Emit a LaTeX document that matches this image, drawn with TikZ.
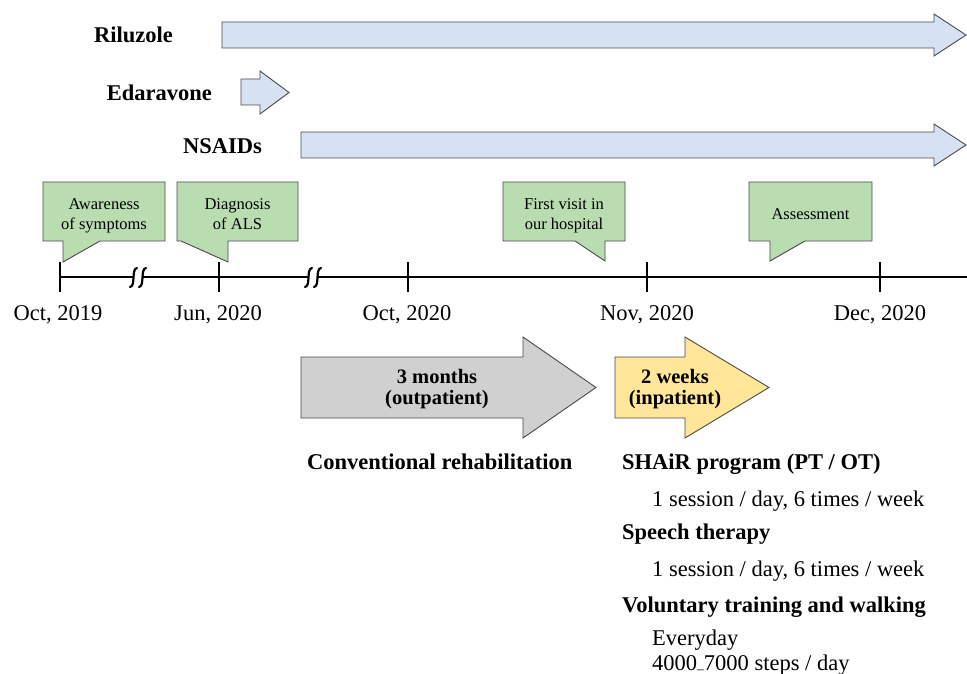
\documentclass[tikz,border=0pt]{standalone}
\usepackage{fontspec}
\setmainfont{Liberation Serif}
\definecolor{drugblue}{HTML}{D6E2F2}
\definecolor{callgreen}{HTML}{B9DDB1}
\definecolor{arrgrey}{HTML}{D0D0D0}
\definecolor{arryellow}{HTML}{FFE699}
\definecolor{edgegrey}{HTML}{4A4A4A}
\tikzset{
  drugarrow/.style={fill=drugblue, draw=edgegrey, line width=0.9pt, line join=miter},
  callout/.style={fill=callgreen, draw=edgegrey, line width=0.9pt, line join=miter},
  phasearrow/.style={draw=edgegrey, line width=0.9pt, line join=miter},
  bigtext/.style={font=\fontsize{22.5}{27}\selectfont, inner sep=0pt},
  bigbold/.style={font=\fontsize{22.5}{27}\selectfont\bfseries, inner sep=0pt},
  phasetext/.style={font=\fontsize{20.5}{24}\selectfont\bfseries, inner sep=0pt, anchor=base},
  calltext/.style={font=\fontsize{16.5}{20}\selectfont, inner sep=0pt, anchor=base},
  axis/.style={line width=2.2pt, black},
  tickmark/.style={line width=2.2pt, black},
  breakmark/.style={line width=2.2pt, black, line cap=round}
}
\begin{document}
\begin{tikzpicture}[x=1pt, y=-1pt]
\useasboundingbox (0,0) rectangle (967,674);

% drug arrows
\draw[drugarrow] (222,22) -- (934,22) -- (934,14) -- (966,35) -- (934,56) -- (934,48) -- (222,48) -- cycle;
\draw[drugarrow] (241,79) -- (260,79) -- (260,71) -- (289,92.5) -- (260,114) -- (260,105) -- (241,105) -- cycle;
\draw[drugarrow] (301,132) -- (934,132) -- (934,124) -- (966,145) -- (934,166) -- (934,158) -- (301,158) -- cycle;
\node[bigbold, anchor=base east] (rilu) at (173,43) {Riluzole};
\node[bigbold, anchor=base east] (edar) at (212,101) {Edaravone};
\node[bigbold, anchor=base east] (nsaid) at (262,154) {NSAIDs};

% callouts
\draw[callout] (43,182) -- (165,182) -- (165,241) -- (100,241) -- (63,262) -- (63,241) -- (43,241) -- cycle;
\draw[callout] (177,182) -- (298,182) -- (298,241) -- (228,241) -- (228,262) -- (181,241) -- (177,241) -- cycle;
\draw[callout] (503,182) -- (625,182) -- (625,241) -- (605,241) -- (605,261) -- (575,241) -- (503,241) -- cycle;
\draw[callout] (749,182) -- (872,182) -- (872,241) -- (805,241) -- (770,261) -- (770,241) -- (749,241) -- cycle;
\node[calltext] (aw1) at (104,209.5) {Awareness};
\node[calltext] (aw2) at (104,229.5) {of symptoms};
\node[calltext] (dg1) at (237.5,209.5) {Diagnosis};
\node[calltext] (dg2) at (237.5,229.5) {of ALS};
\node[calltext] (fv1) at (564,209.5) {First visit in};
\node[calltext] (fv2) at (564,229.5) {our hospital};
\node[calltext] (as1) at (810.5,219) {Assessment};

% timeline
\coordinate (tl0) at (60,277);
\coordinate (tl1) at (967,277);
\draw[axis] (tl0) -- (tl1);
\foreach \tx in {60,219,408,647,880}{
  \draw[tickmark] (\tx,262) -- (\tx,292);
}
% break marks
\foreach \bx in {138,313}{
  \fill[white] (\bx-7,285) -- (\bx-2,270) -- (\bx+7,270) -- (\bx+2,285) -- cycle;
  \draw[breakmark] (\bx-8,287) .. controls (\bx-2,286) and (\bx-7,269) .. (\bx-1,268);
  \draw[breakmark] (\bx+1,287) .. controls (\bx+7,286) and (\bx+2,269) .. (\bx+8,268);
}
\node[bigtext, anchor=base] (d1) at (58,320) {Oct, 2019};
\node[bigtext, anchor=base] (d2) at (218,320) {Jun, 2020};
\node[bigtext, anchor=base] (d3) at (407,320) {Oct, 2020};
\node[bigtext, anchor=base] (d4) at (647,320) {Nov, 2020};
\node[bigtext, anchor=base] (d5) at (880,320) {Dec, 2020};

% phase arrows
\draw[phasearrow, fill=arrgrey] (301,357) -- (523,357) -- (523,337) -- (596,387.5) -- (523,438) -- (523,418) -- (301,418) -- cycle;
\draw[phasearrow, fill=arryellow] (615,357) -- (685,357) -- (685,337) -- (769,387.5) -- (685,438) -- (685,418) -- (615,418) -- cycle;
\node[phasetext] (g1) at (437,383) {3 months};
\node[phasetext] (g2) at (437,404) {(outpatient)};
\node[phasetext] (y1) at (675,383) {2 weeks};
\node[phasetext] (y2) at (675,404) {(inpatient)};

% descriptions
\node[bigbold, anchor=base west] (conv) at (307,469) {Conventional rehabilitation};
\node[bigbold, anchor=base west] (shair) at (622,469) {SHAiR program (PT / OT)};
\node[bigtext, anchor=base west] (s1) at (652,506) {1 session / day, 6 times / week};
\node[bigbold, anchor=base west] (sp) at (622,539) {Speech therapy};
\node[bigtext, anchor=base west] (s2) at (652,576) {1 session / day, 6 times / week};
\node[bigbold, anchor=base west] (vol) at (622,612) {Voluntary training and walking};
\node[bigtext, anchor=base west] (ev) at (652,645) {Everyday};
\node[bigtext, anchor=base west] (st) at (652,670) {4000\raisebox{-0.3ex}{\scalebox{0.6}{–}}7000 steps / day};
\end{tikzpicture}
\end{document}
